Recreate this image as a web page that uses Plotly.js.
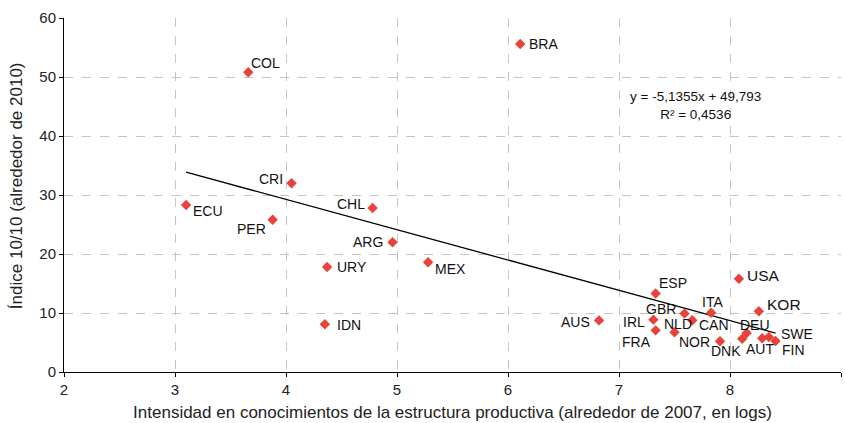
<!DOCTYPE html>
<html>
<head>
<meta charset="utf-8">
<script src="https://cdn.plot.ly/plotly-3.0.1.min.js"></script>
<style>html,body{margin:0;padding:0;background:#fff;}#chart{width:845px;height:423px;}</style>
</head>
<body>
<div id="chart"></div>
<script>
// Data
const countries = ["BRA","COL","CRI","ECU","CHL","PER","ARG","MEX","URY","IDN",
  "ESP","USA","KOR","ITA","GBR","AUS","IRL","FRA","NLD","CAN","NOR","DNK","DEU","AUT","SWE","FIN"];
const knowledgeIntensity = [6.11,3.66,4.05,3.10,4.78,3.88,4.96,5.28,4.37,4.35,
  7.33,8.08,8.26,7.83,7.59,6.82,7.31,7.33,7.50,7.66,7.91,8.11,8.15,8.29,8.35,8.41];
const index1010 = [55.6,50.8,32.0,28.3,27.8,25.8,22.0,18.6,17.8,8.1,
  13.3,15.8,10.3,10.05,9.9,8.75,8.87,7.06,6.73,8.76,5.2,5.64,6.6,5.71,5.93,5.25];
const slope = -5.1355;
const intercept = 49.793;
const r2 = 0.4536;
const xTicks = [2,3,4,5,6,7,8,9];
const yTicks = [0,10,20,30,40,50,60];

// Label placement (pixel offsets & anchors), kept apart from the data
const labelStyle = {
  BRA:{xa:"left",dx:7,dy:0}, COL:{xa:"left",dx:1,dy:9}, CRI:{xa:"right",dx:-7,dy:4},
  ECU:{xa:"left",dx:5,dy:-6}, CHL:{xa:"right",dx:-6,dy:4}, PER:{xa:"right",dx:-5,dy:-9},
  ARG:{xa:"right",dx:-8,dy:0}, MEX:{xa:"left",dx:5,dy:-7}, URY:{xa:"left",dx:8,dy:0},
  IDN:{xa:"left",dx:10,dy:-1}, ESP:{xa:"left",dx:1,dy:11}, USA:{xa:"left",dx:6,dy:3,big:true},
  KOR:{xa:"left",dx:6,dy:7,big:true}, ITA:{xa:"center",dx:1,dy:11}, GBR:{xa:"right",dx:-6,dy:5},
  AUS:{xa:"right",dx:-7,dy:-2}, IRL:{xa:"right",dx:-6,dy:-2}, FRA:{xa:"right",dx:-3,dy:-12},
  NLD:{xa:"left",dx:-13,dy:8}, CAN:{xa:"left",dx:5,dy:-5}, NOR:{xa:"right",dx:-8,dy:-1},
  DNK:{xa:"right",dx:1,dy:-12}, DEU:{xa:"left",dx:-9,dy:8}, AUT:{xa:"center",dx:-2,dy:-11},
  SWE:{xa:"left",dx:10,dy:3}, FIN:{xa:"left",dx:4,dy:-9}
};

const xMin = Math.min(...knowledgeIntensity);
const xMax = Math.max(...knowledgeIntensity);
const fitX = [xMin, xMax];
const fitY = fitX.map(v => slope*v + intercept);

const font = "Liberation Sans, Arial, sans-serif";

const traces = [
  {x: fitX, y: fitY, mode:"lines", line:{color:"#000", width:1.3}, hoverinfo:"skip", showlegend:false},
  {x: knowledgeIntensity, y: index1010, mode:"markers", text: countries,
   marker:{symbol:"diamond", size:8, color:"#e8423a"}, showlegend:false}
];

const fmt = (v, d) => v.toFixed(d).replace(".", ",");
const annotations = countries.map((c,i) => {
  const s = labelStyle[c];
  return {x: knowledgeIntensity[i], y: index1010[i], xref:"x", yref:"y", text:c, showarrow:false,
    xanchor:s.xa, yanchor:"middle", xshift:s.dx, yshift:s.dy,
    font:{family:font, size: s.big ? 15.5 : 14, color:"#111"}};
});
// regression equation
annotations.push({xref:"paper", yref:"paper", x:0.813, y:0.752, xanchor:"center", yanchor:"middle",
  showarrow:false, align:"center",
  text: "y = " + fmt(slope,4) + "x + " + fmt(intercept,3) + "<br>R² = " + fmt(r2,4),
  font:{family:font, size:13.5, color:"#111"}});
// y-axis title
annotations.push({xref:"paper", yref:"paper", x:0, y:0.525, xanchor:"center", yanchor:"middle",
  xshift:-48, textangle:-90, showarrow:false,
  text:"Índice 10/10 (alrededor de 2010)", font:{family:font, size:17, color:"#222"}});

const layout = {
  width:845, height:423,
  margin:{l:64, r:4, t:18, b:51},
  paper_bgcolor:"#fff", plot_bgcolor:"#fff",
  font:{family:font, color:"#222"},
  xaxis:{range:[2,9], tickvals:xTicks, ticktext:xTicks.map(String),
    showgrid:true, gridcolor:"#c4c4c4", griddash:"dash", gridwidth:1,
    zeroline:false, showline:true, linecolor:"#000", linewidth:1,
    ticks:"outside", ticklen:4, tickcolor:"#000",
    tickfont:{family:font, size:15, color:"#222"},
    title:{text:"Intensidad en conocimientos de la estructura productiva (alrededor de 2007, en logs)",
      font:{family:font, size:17, color:"#222"}, standoff:9}},
  yaxis:{range:[0,60], tickvals:yTicks, ticktext:yTicks.map(String),
    showgrid:true, gridcolor:"#c4c4c4", griddash:"dash", gridwidth:1,
    zeroline:false, showline:true, linecolor:"#000", linewidth:1,
    ticks:"outside", ticklen:4, tickcolor:"#000",
    tickfont:{family:font, size:15, color:"#222"}},
  annotations: annotations
};

Plotly.newPlot("chart", traces, layout, {displayModeBar:false, staticPlot:true});
</script>
</body>
</html>
